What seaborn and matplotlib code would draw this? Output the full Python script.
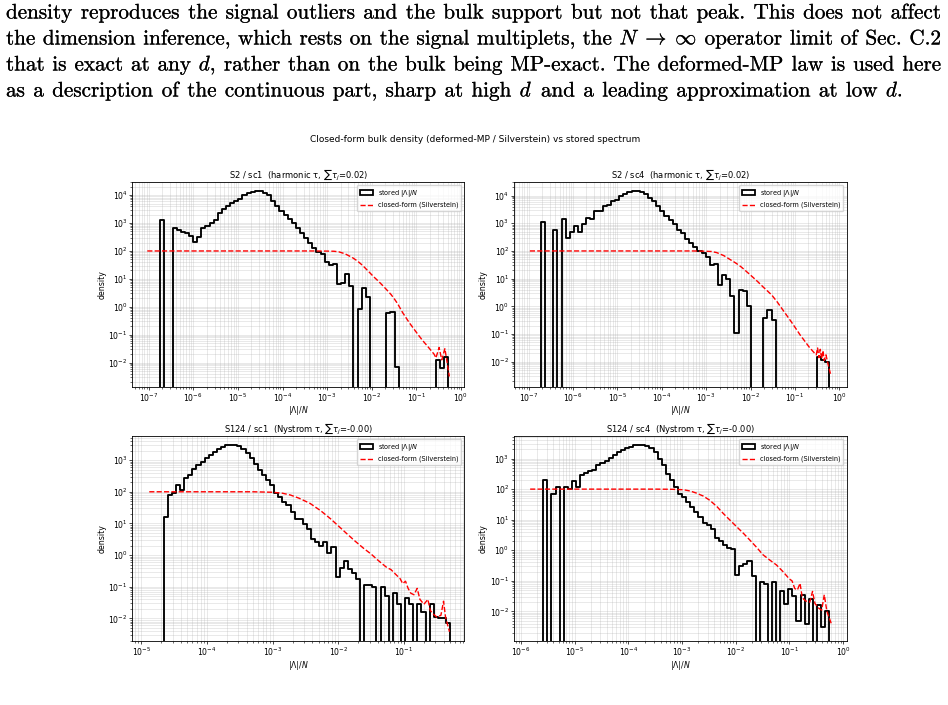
import numpy as np
import matplotlib
matplotlib.use("Agg")
import matplotlib.pyplot as plt
import matplotlib.patheffects as pe
from matplotlib.patches import Patch
from matplotlib.lines import Line2D
import seaborn as sns

# Page text above the figure
paragraph = [
    "density reproduces the signal outliers and the bulk support but not that peak. This does not affect",
    r"the dimension inference, which rests on the signal multiplets, the $N\;\to\;\infty$ operator limit of Sec. C.2",
    r"that is exact at any $d$, rather than on the bulk being MP-exact. The deformed-MP law is used here",
    r"as a description of the continuous part, sharp at high $d$ and a leading approximation at low $d$.",
]
suptitle = "Closed-form bulk density (deformed-MP / Silverstein) vs stored spectrum"

titles = [
    r"S2 / sc1  (harmonic τ, $\sum\tau_j$=0.02)",
    r"S2 / sc4  (harmonic τ, $\sum\tau_j$=0.02)",
    r"S124 / sc1  (Nystrom τ, $\sum\tau_j$=-0.00)",
    r"S124 / sc4  (Nystrom τ, $\sum\tau_j$=-0.00)",
]

# Stored spectrum: log-spaced histogram, n_bins between (min, max)
n_bins = 70

s2_sc1_range = (1.82e-7, 0.513)
s2_sc1_density = [
    1320, 0, 0, 650, 560, 490, 430, 340, 215, 325,
    675, 775, 980, 1260, 2200, 3100, 4100, 5400, 6300, 7100,
    10000, 11500, 13200, 14500, 14500, 12000, 10000, 6300, 4100, 2750,
    1900, 1350, 980, 650, 450, 280, 195, 123, 93, 78,
    41, 31, 33, 6.6, 6.9, 14.8, 5.6, 0, 0.87, 4.6,
    2.3, 0, 0, 0, 0, 0.58, 0.65, 0.0071, 0, 0,
    0, 0, 0, 0, 0, 0, 0, 0.0123, 0.0063, 0.0155,
]

s2_sc4_range = (1.9e-7, 0.59)
s2_sc4_density = [
    1120, 0, 0, 590, 0, 1480, 300, 480, 800, 490,
    910, 1550, 1400, 2750, 2800, 4100, 4600, 6300, 7100, 10000,
    11500, 13200, 14500, 15100, 13200, 11000, 8300, 6300, 4100, 2750,
    1900, 1350, 910, 590, 430, 280, 200, 140, 100, 81,
    62, 31, 35, 6.0, 13.8, 9.5, 2.3, 0.11, 4.0, 3.5,
    1.0, 0, 0, 0, 0.38, 0.76, 0.33, 0, 0, 0,
    0, 0, 0, 0, 0, 0, 0, 0.015, 0.012, 0.010,
]

s124_sc1_range = (2.19e-5, 0.5)
s124_sc1_density = [
    16, 80, 93, 166, 110, 275, 350, 540, 680, 870,
    1150, 1480, 1780, 2200, 2570, 2900, 3000, 3000, 2750, 2300,
    1700, 1150, 760, 500, 330, 230, 160, 91, 68, 47,
    37, 23, 14, 13.5, 9.8, 6.5, 3.3, 2.6, 2.0, 2.6,
    1.2, 1.8, 0.2, 0.4, 0.65, 0.37, 0.27, 0.18, 0, 0.115,
    0.115, 0.1, 0, 0.1, 0.05, 0, 0.063, 0.028, 0, 0.045,
    0.028, 0, 0.028, 0.016, 0, 0.028, 0.011, 0.01, 0.01, 0.007,
]

s124_sc4_range = (2.6e-6, 0.55)
s124_sc4_density = [
    195, 0, 71, 117, 0, 117, 100, 180, 117, 280,
    350, 390, 420, 600, 740, 810, 1050, 1290, 1580, 1860,
    2140, 2400, 2750, 2880, 2880, 2570, 2140, 1580, 1000, 600,
    320, 195, 117, 71, 55, 38, 26, 17.8, 12.3, 7.9,
    6.6, 5.1, 2.5, 1.95, 1.45, 1.17, 1.12, 0.15, 0.3, 0.36,
    0.44, 0.145, 0, 0.089, 0.081, 0, 0.089, 0, 0.045, 0.018,
    0.056, 0.032, 0.005, 0.035, 0.004, 0.025, 0, 0.016, 0.003, 0.01,
]

# Closed-form (Silverstein) curves
s2_sc1_model_x = [9.3e-8, 5.0e-4, 1.0e-3, 1.41e-3, 1.82e-3, 2.51e-3, 3.63e-3, 4.79e-3, 6.17e-3, 8.32e-3,
                  1.12e-2, 1.41e-2, 1.74e-2, 2.19e-2, 2.69e-2, 3.16e-2, 3.8e-2, 4.9e-2, 6.9e-2, 8.9e-2,
                  0.115, 0.141, 0.178, 0.251, 0.275, 0.324, 0.372, 0.437, 0.55]
s2_sc1_model_y = [100, 100, 98.9, 97.7, 93.3, 79.4, 58.9, 43.7, 30.9, 19.1,
                  11.7, 8.3, 5.9, 4.0, 2.8, 2.0, 1.3, 0.63, 0.275, 0.158,
                  0.091, 0.06, 0.039, 0.02, 0.0148, 0.035, 0.0126, 0.032, 0.0032]

s2_sc4_model_x = [1.07e-7, 5.0e-4, 1e-3, 1.32e-3, 1.74e-3, 2.51e-3, 3.63e-3, 4.79e-3, 6.31e-3, 8.32e-3,
                  1.1e-2, 1.45e-2, 1.9e-2, 2.4e-2, 3.0e-2, 3.98e-2, 4.79e-2, 5.75e-2, 8.3e-2, 0.105,
                  0.132, 0.166, 0.209, 0.263, 0.302, 0.324, 0.347, 0.372, 0.398, 0.427,
                  0.457, 0.5, 0.55, 0.63]
s2_sc4_model_y = [100, 100, 97.7, 95.5, 87, 67.6, 46.8, 35.5, 25.7, 17.4,
                  11.7, 7.8, 5.1, 3.6, 2.57, 1.45, 0.95, 0.63, 0.275, 0.158,
                  0.091, 0.056, 0.034, 0.0224, 0.0178, 0.0316, 0.0141, 0.0282, 0.0126, 0.025,
                  0.0112, 0.0178, 0.0089, 0.0037]

s124_sc1_model_x = [1.32e-5, 1e-4, 5e-4, 1e-3, 1.41e-3, 1.86e-3, 2.5e-3, 3.7e-3, 5.4e-3, 7.6e-3,
                    1e-2, 1.35e-2, 1.78e-2, 2.4e-2, 3.16e-2, 3.9e-2, 4.7e-2, 5.5e-2, 6.3e-2, 7.4e-2,
                    8.7e-2, 9.5e-2, 0.105, 0.115, 0.126, 0.141, 0.158, 0.174, 0.2, 0.23,
                    0.25, 0.275, 0.316, 0.363, 0.398, 0.427, 0.49]
s124_sc1_model_y = [100, 100, 100, 96.6, 90, 79, 63, 43, 25, 14,
                    8.3, 4.7, 2.8, 1.66, 1.07, 0.72, 0.52, 0.4, 0.35, 0.25,
                    0.18, 0.126, 0.15, 0.089, 0.063, 0.056, 0.089, 0.04, 0.028, 0.04,
                    0.018, 0.014, 0.011, 0.0126, 0.035, 0.011, 0.0038]

s124_sc4_model_x = [1.48e-6, 3.2e-4, 6.3e-4, 1.07e-3, 1.41e-3, 1.86e-3, 2.5e-3, 3.3e-3, 4.5e-3, 5.9e-3,
                    7.9e-3, 1.05e-2, 1.41e-2, 1.86e-2, 2.5e-2, 3.2e-2, 4.3e-2, 5.75e-2, 7.6e-2, 0.1,
                    0.112, 0.126, 0.141, 0.158, 0.174, 0.2, 0.24, 0.27, 0.30, 0.355,
                    0.4, 0.447, 0.5, 0.62]
s124_sc4_model_y = [100, 100, 98.9, 95.5, 87, 74, 59, 43, 26.5, 15.8,
                    9.5, 5.8, 3.5, 2.1, 1.2, 0.72, 0.48, 0.33, 0.2, 0.115,
                    0.1, 0.056, 0.05, 0.083, 0.028, 0.022, 0.02, 0.045, 0.018, 0.0126,
                    0.011, 0.035, 0.01, 0.0035]

panels = [
    (s2_sc1_range, s2_sc1_density, s2_sc1_model_x, s2_sc1_model_y),
    (s2_sc4_range, s2_sc4_density, s2_sc4_model_x, s2_sc4_model_y),
    (s124_sc1_range, s124_sc1_density, s124_sc1_model_x, s124_sc1_model_y),
    (s124_sc4_range, s124_sc4_density, s124_sc4_model_x, s124_sc4_model_y),
]

# Layout (page pixels: left, top, right, bottom) and axis limits
W, H = 948, 705
boxes = [(132.2, 181.7, 464.3, 386.7), (514.0, 181.7, 846.5, 386.7),
         (132.2, 435.7, 464.3, 641.3), (514.0, 435.7, 846.5, 641.3)]
xlims = [(4.27e-8, 1.19), (4.7e-8, 1.45), (7.26e-6, 0.824), (7.4e-7, 1.16)]
ylims = [(1.38e-3, 3.02e4), (1.26e-3, 3.16e4), (1.9e-3, 5.9e3), (1.05e-3, 5.6e3)]
line_baselines = [18.5, 44.5, 70.5, 96.5]
line_right = [941, 941, 941, 903]
text_size = 15.2

fig = plt.figure(figsize=(W / 100, H / 100), dpi=100)
renderer = fig.canvas.get_renderer()
ink = [pe.withStroke(linewidth=0.15, foreground="black")]


def set_line(words, base_y, x_left, x_right, size=text_size):
    items = [fig.text(0, 1 - base_y / H, w, fontsize=size, family="cmr10",
                      math_fontfamily="cm", va="baseline", path_effects=ink) for w in words]
    widths = [t.get_window_extent(renderer).width for t in items]
    gap = (x_right - x_left - sum(widths)) / (len(words) - 1)
    x = x_left
    for t, w in zip(items, widths):
        t.set_x(x / W)
        x += w + gap


for i, line in enumerate(paragraph):
    set_line(line.split(" "), line_baselines[i], 6, line_right[i])

fig.text(475 / W, 1 - 140 / H, suptitle, ha="center", va="center", fontsize=6.5)

legend_handles = [
    Patch(facecolor="none", edgecolor="black", linewidth=1.3, label=r"stored $|\Lambda|/N$"),
    Line2D([], [], color="red", linestyle="--", linewidth=1.0, label="closed-form (Silverstein)"),
]

for idx, ((lo, hi), dens, mx, my) in enumerate(panels):
    left, top, right, bottom = boxes[idx]
    ax = fig.add_axes([left / W, 1 - bottom / H, (right - left) / W, (bottom - top) / H])

    edges = np.geomspace(lo, hi, n_bins + 1)
    # one empty bin on each side so the outline drops to the baseline
    ratio = edges[1] / edges[0]
    edges = np.concatenate([[lo / ratio], edges, [hi * ratio]])
    weights = np.concatenate([[0.0], dens, [0.0]])
    mids = np.sqrt(edges[:-1] * edges[1:])

    sns.histplot(x=mids, weights=weights, bins=list(np.log10(edges)), log_scale=True,
                 element="step", fill=False, color="black", linewidth=1.35, ax=ax)
    sns.lineplot(x=mx, y=my, color="red", linestyle="--", linewidth=1.0, ax=ax)

    ax.set_yscale("log")
    ax.set_xlim(xlims[idx])
    ax.set_ylim(ylims[idx])
    ax.grid(True, which="both", color="#b0b0b0", alpha=0.4, linewidth=0.5)
    ax.set_title(titles[idx], fontsize=6.0, pad=2.5)
    ax.set_xlabel(r"$|\Lambda|/N$", fontsize=5.6, labelpad=0.3)
    ax.set_ylabel("density", fontsize=5.6, labelpad=1.5)
    ax.tick_params(which="major", labelsize=5.6, length=2, width=0.5, pad=1.3)
    ax.tick_params(which="minor", length=1.2, width=0.4)
    for sp in ax.spines.values():
        sp.set_linewidth(0.6)
    ax.legend(handles=legend_handles, loc="upper right", fontsize=4.7)

fig.savefig("out.png", dpi=100)
